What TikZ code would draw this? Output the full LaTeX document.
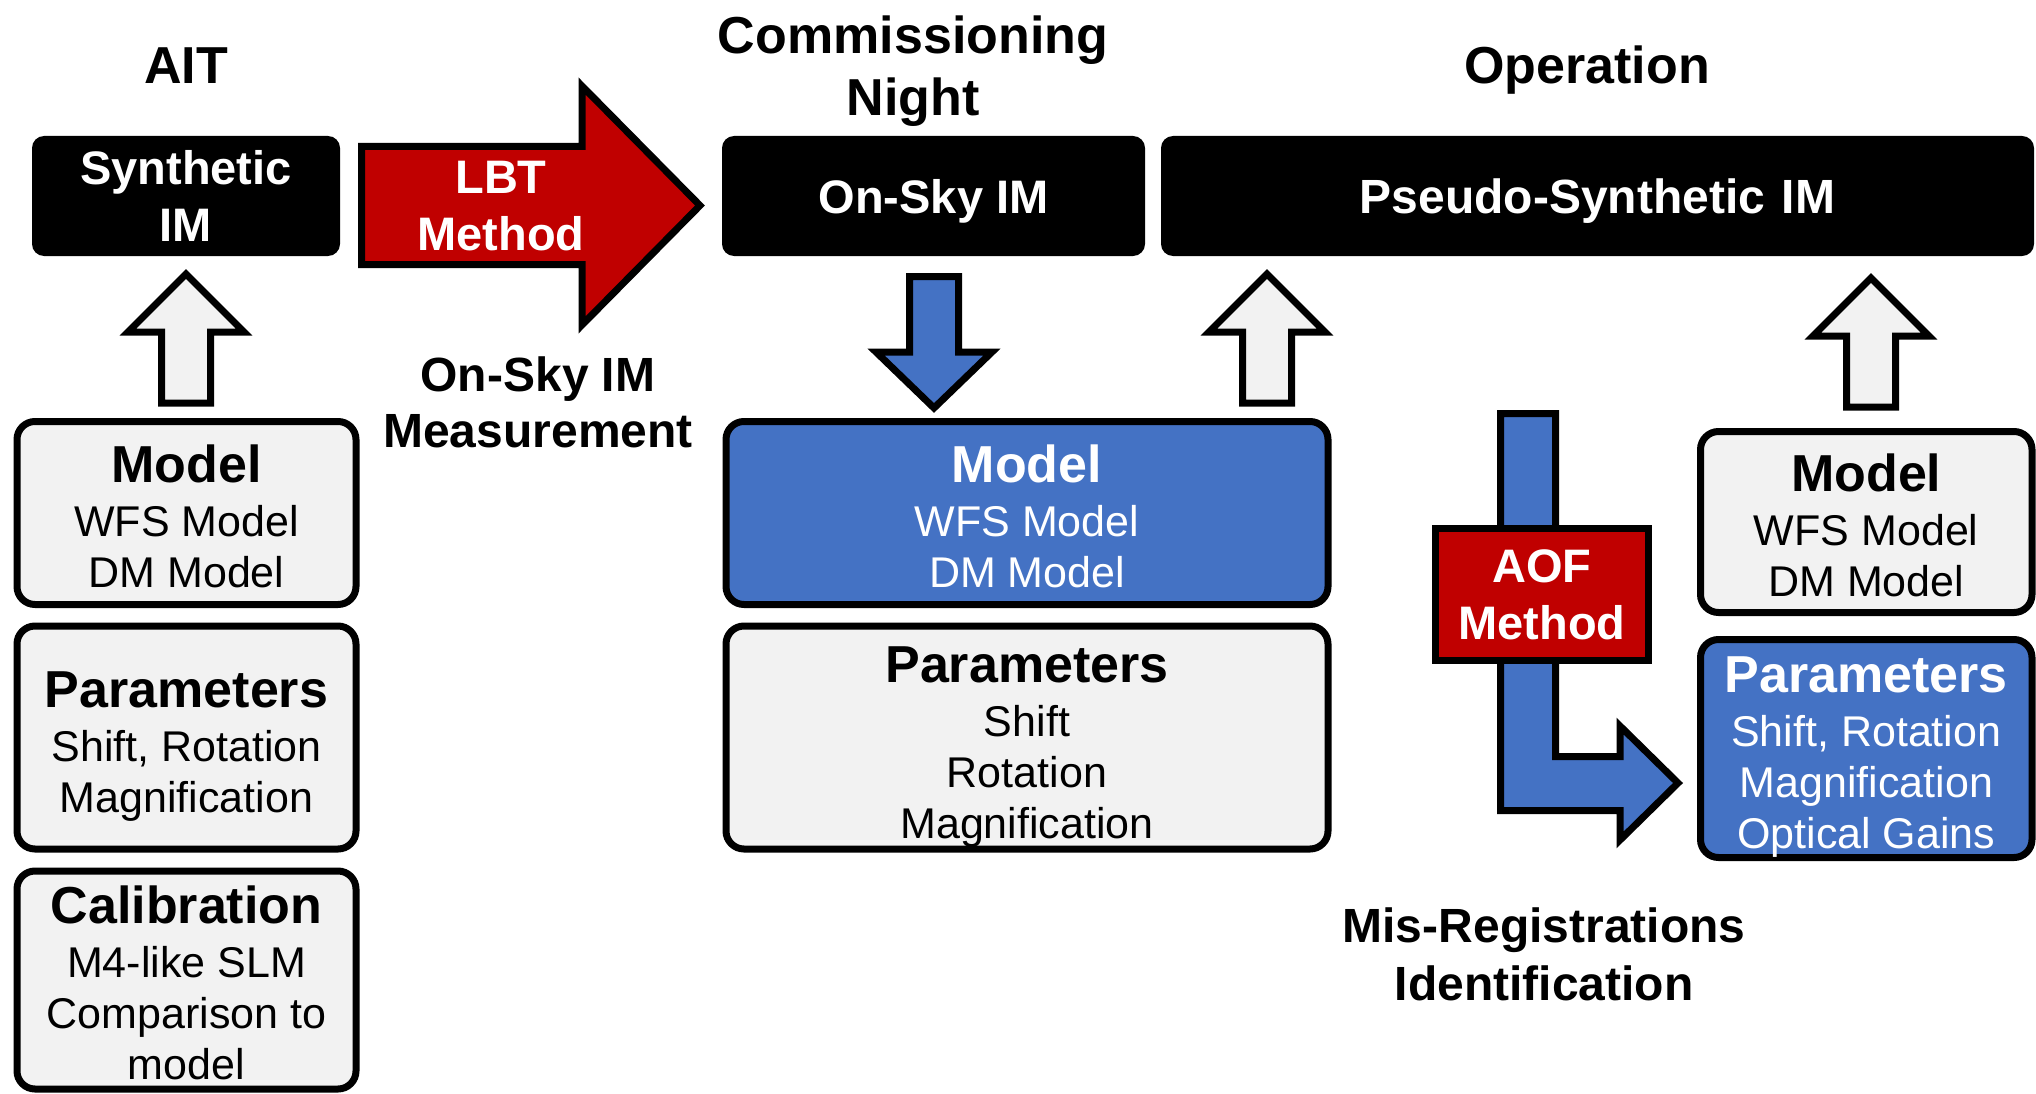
\documentclass[tikz,border=0pt]{standalone}
\usepackage{fontspec}
\setmainfont{Liberation Sans}
\definecolor{aoblue}{HTML}{4472C4}
\definecolor{aored}{HTML}{C00000}
\definecolor{aogray}{HTML}{F2F2F2}
% bold heading line inside an information box (optional: height reserved above the baseline)
\newcommand\boxhead[2][38]{{\fontsize{52}{54}\selectfont\bfseries\rule{0pt}{#1pt}#2}\\[3pt]}
% upward block arrow: centre x, tip y, head base y, tail y
\newcommand\uparrowpath[4]{(#1,#2) -- (#1+58,#3) -- (#1+24.5,#3) -- (#1+24.5,#4)
  -- (#1-24.5,#4) -- (#1-24.5,#3) -- (#1-58,#3) -- cycle}
\begin{document}
\begin{tikzpicture}[x=1pt,y=-1pt,
  title/.style={font=\fontsize{52}{62}\selectfont\bfseries, align=center, inner sep=0pt},
  caption/.style={font=\fontsize{48}{57}\selectfont\bfseries, align=center, inner sep=0pt},
  imbox/.style={fill=black, text=white, rounded corners=12pt, inner sep=0pt,
    align=center, minimum height=120pt, font=\fontsize{47}{57}\selectfont\bfseries},
  infobox/.style={draw=black, line width=7pt, rounded corners=18pt, inner sep=0pt,
    align=center, font=\fontsize{43}{51}\selectfont},
  graybox/.style={infobox, fill=aogray, text=black},
  bluebox/.style={infobox, fill=aoblue, text=white},
  methodbox/.style={draw=black, line width=7pt, fill=aored, text=white, inner sep=0pt,
    align=center, font=\fontsize{47}{57}\selectfont\bfseries},
  blockarrow/.style={draw=black, line width=7pt, miter limit=10},
  grayarrow/.style={blockarrow, fill=aogray},
  bluearrow/.style={blockarrow, fill=aoblue},
  redarrow/.style={blockarrow, fill=aored},
]
\useasboundingbox (0,0) rectangle (2036,1094);

% phase titles
\node[title, anchor=base] (ait) at (186,84) {AIT};
\node[title] (comm) at (913,71) {Commissioning\\Night};
\node[title, anchor=base] (oper) at (1587,84) {Operation};

% interaction matrices
\node[imbox, minimum width=308pt] (synth) at (186,196) {Synthetic\\IM};
\node[imbox, minimum width=423pt, text depth=0pt] (onsky) at (933.5,196) {On-Sky IM};
\node[imbox, minimum width=873pt, text depth=0pt, font=\fontsize{48}{57}\selectfont\bfseries] (pseudo) at (1597.5,196) {Pseudo-Synthetic\hspace{0.35em}IM};

% LBT method arrow
\draw[redarrow] (361.5,146.5) -- (582,146.5) -- (582,86) -- (700,205.5) -- (582,325)
  -- (582,264.5) -- (361.5,264.5) -- cycle;
\node[methodbox, draw=none, fill=none] (lbt) at (501,206) {LBT\\Method};
\node[caption, font=\fontsize{48}{56}\selectfont\bfseries] (meas) at (538,402) {On-Sky IM\\Measurement};

% AIT column
\draw[grayarrow] \uparrowpath{186}{274}{332}{403};
\node[graybox, minimum width=339pt, minimum height=183pt] (lmodel) at (186.5,513)
  {\boxhead[44]{Model}WFS Model\\DM Model};
\node[graybox, minimum width=339pt, minimum height=223pt] (lparam) at (186.5,737.5)
  {\boxhead[54]{Parameters}Shift, Rotation\\Magnification};
\node[graybox, minimum width=339pt, minimum height=218pt] (lcal) at (186.5,980)
  {\boxhead[44]{Calibration}M4-like SLM\\Comparison to\\model};

% commissioning column
\draw[bluearrow] (909.5,276.5) -- (958.5,276.5) -- (958.5,352) -- (992,352) -- (934,408)
  -- (876,352) -- (909.5,352) -- cycle;
\draw[grayarrow] \uparrowpath{1267}{274}{332}{403};
\node[bluebox, minimum width=602pt, minimum height=183pt] (mmodel) at (1027,513)
  {\boxhead[44]{Model}WFS Model\\DM Model};
\node[graybox, minimum width=602pt, minimum height=223pt] (mparam) at (1027,737.5)
  {\boxhead[54]{Parameters}Shift\\Rotation\\Magnification};

% operation column
\draw[grayarrow] \uparrowpath{1871}{278}{336}{407};
\node[graybox, minimum width=331.5pt, minimum height=181pt] (rmodel) at (1866.25,522)
  {\boxhead[44]{Model}WFS Model\\DM Model};
\node[bluebox, minimum width=331.5pt, minimum height=218pt] (rparam) at (1866.25,748.5)
  {\boxhead[52]{Parameters}Shift, Rotation\\Magnification\\Optical Gains};

% AOF method: bent arrow into the identified parameters
\draw[bluearrow] (1500.5,413.5) -- (1555.5,413.5) -- (1555.5,756.5) -- (1620,756.5)
  -- (1620,726) -- (1678,783) -- (1620,840) -- (1620,810.5) -- (1500.5,810.5) -- cycle;
\node[methodbox, minimum width=213pt, minimum height=132pt] (aof) at (1542,594.5) {AOF\\Method};
\node[caption, font=\fontsize{48}{58}\selectfont\bfseries] (misreg) at (1544,954) {Mis-Registrations\\Identification};
\end{tikzpicture}
\end{document}
